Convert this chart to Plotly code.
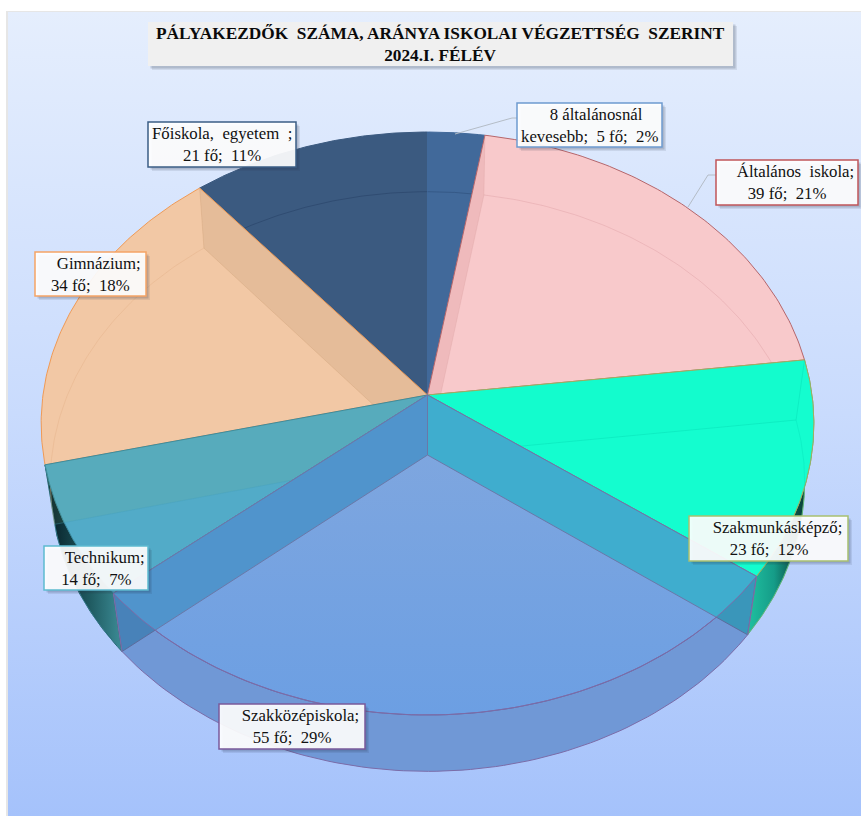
import numpy as np
import plotly.graph_objects as go

# ---- data ----
categories = ["8 általánosnál kevesebb", "Általános iskola", "Szakmunkásképző",
              "Szakközépiskola", "Technikum", "Gimnázium", "Főiskola, egyetem"]
counts = [5, 39, 23, 55, 14, 34, 21]
percents = [2, 21, 12, 29, 7, 18, 11]
title_lines = ["PÁLYAKEZDŐK\u00a0 SZÁMA, ARÁNYA ISKOLAI VÉGZETTSÉG\u00a0 SZERINT", "2024.I. FÉLÉV"]

# ---- styles ----
face_colors = ["#41699A", "#F8C9CB", "#14FDCF", "#76A3E0", "#52ABC8", "#F2C8A5", "#3B5A80"]
rim_colors = ["#41699A", "#B5666B", "#A0B060", "#7B6CA8", "#3A8AA0", "#F09A55", "#3B5A80"]
border_colors = ["#6E9BD0", "#C0555A", "#A8C070", "#7A5A9A", "#5EBBD0", "#F5A465", "#3B5E85"]
boxes = [(517, 662, 103, 147), (716, 858, 160, 205), (689, 848, 516, 561), (219, 365, 704, 749),
         (44, 148, 546, 590), (35, 146, 252, 296), (148, 296, 122, 167)]
N = "\u00a0"
label_lines = [
    (N*3 + categories[0].rsplit(" ", 1)[0], categories[0].rsplit(" ", 1)[1] + f";{N}{N}{counts[0]}{N}fő;{N}{N}{percents[0]}%"),
    (N*4 + categories[1].replace(" ", N*2) + ";", f"{counts[1]}{N}fő;{N}{N}{percents[1]}%"),
    (N*4 + categories[2] + ";", f"{counts[2]}{N}fő;{N}{N}{percents[2]}%"),
    (N*4 + categories[3] + ";", f"{counts[3]}{N}fő;{N}{N}{percents[3]}%"),
    (N*4 + categories[4] + ";", f"{counts[4]}{N}fő;{N}{N}{percents[4]}%"),
    (N*4 + categories[5] + ";", f"{counts[5]}{N}fő;{N}{N}{percents[5]}%"),
    (categories[6].replace(" ", N*2) + f"{N}{N};", f"{counts[6]}{N}fő;{N}{N}{percents[6]}%"),
]

# ---- projection of the tilted disc (upper and lower rim) ----
CX, CY, CY_LOW = 427.5, 395.0, 455.0
A, B, K = 384.5, 288.7, 0.0978
A_LOW, B_LOW, K_LOW = 375.6, 287.4, 0.0915

def proj(theta, low=False):
    u, v = np.sin(theta), -np.cos(theta)
    if low:
        w = 1 - K_LOW * v
        return CX + A_LOW * u / w, CY_LOW + B_LOW * v / w
    w = 1 - K * v
    return CX + A * u / w, CY + B * v / w

def arc(t0, t1, low=False, n=90):
    return proj(np.linspace(t0, t1, n), low)

ends = np.cumsum(counts) / np.sum(counts) * 2 * np.pi
starts = np.concatenate([[0.0], ends[:-1]])

fig = go.Figure()

def poly(x, y, fill=None, line=None, lw=1, grad=None):
    x = list(x) + [x[0]]
    y = list(y) + [y[0]]
    kw = dict(x=x, y=y, mode="lines", hoverinfo="skip", showlegend=False,
              line=dict(color=line or "rgba(0,0,0,0)", width=lw))
    if fill or grad:
        kw["fill"] = "toself"
    if fill:
        kw["fillcolor"] = fill
    if grad:
        kw["fillgradient"] = grad
    fig.add_trace(go.Scatter(**kw))

def open_line(x, y, color, lw=1):
    fig.add_trace(go.Scatter(x=list(x), y=list(y), mode="lines", hoverinfo="skip",
                             showlegend=False, line=dict(color=color, width=lw)))

def wall(t, fill=None, edge=None):
    tx, ty = proj(t)
    bx, by = proj(t, True)
    poly([CX, tx, bx, CX], [CY, ty, by, CY_LOW], fill=fill, line=None)
    if edge:
        open_line([tx, bx, CX], [ty, by, CY_LOW], edge)

# page background panel
poly([6, 861, 861, 6], [11, 11, 816, 816], fill="#E6E6E6")
poly([8, 861, 861, 8], [12, 12, 816, 816],
     grad=dict(type="vertical", colorscale=[[0, "#E5EEFD"], [0.5, "#C9DBFD"], [1, "#A5C2FB"]],
               start=12, stop=816))

def outer_wall(i, grad=None, fill=None, line=None):
    tx, ty = arc(starts[i], ends[i])
    bx, by = arc(ends[i], starts[i], low=True)
    poly(np.r_[tx, bx], np.r_[ty, by], fill=fill, grad=grad, line=line)

outer_wall(2, grad=dict(type="horizontal", colorscale=[[0, "#20C0A0"], [0.45, "#159C88"], [0.8, "#0A5048"], [1, "#0A4038"]],
                        start=748, stop=806), line="#7FA860")
outer_wall(4, grad=dict(type="horizontal", colorscale=[[0, "#08222A"], [0.55, "#1F5A60"], [1, "#3C8C96"]],
                        start=50, stop=122), line="#1A4A50")

# top faces, each with the lower rim and walls seen through it; later faces clip earlier ones
faint = {6: "rgba(45,72,110,0.8)", 0: "rgba(50,85,130,0.8)", 1: "rgba(215,150,155,0.35)",
         5: "rgba(230,180,140,0.5)", 2: "rgba(0,215,180,0.3)", 4: "rgba(70,160,190,0.5)"}
for i in [6, 0, 1, 5, 2, 4]:
    ax, ay = arc(starts[i], ends[i])
    poly(np.r_[CX, ax], np.r_[CY, ay], fill=face_colors[i], line=rim_colors[i])
    x, y = arc(starts[i], ends[i], low=True)
    open_line(x, y, faint[i])
    if i == 1:
        wall(ends[0], fill="rgba(190,110,110,0.16)", edge="rgba(210,150,150,0.25)")
    elif i == 5:
        wall(ends[5], fill="rgba(120,90,50,0.10)", edge="rgba(205,160,120,0.35)")
    elif i == 2:
        wall(ends[1], fill="rgba(0,200,150,0.02)", edge="rgba(0,205,170,0.3)")
    elif i == 4:
        wall(ends[4], fill="rgba(125,175,110,0.12)", edge="rgba(70,160,190,0.35)")

# the large front slice
i = 3
outer_wall(i, fill="#82AFF0")
ax, ay = arc(starts[i], ends[i])
poly(np.r_[CX, ax], np.r_[CY, ay],
     grad=dict(type="vertical", colorscale=[[0, "#7EA6DF"], [1, "#6C9FE3"]], start=455, stop=715),
     line=rim_colors[i])
for t, col in [(starts[i], "#3FADCE"), (ends[i], "#5094CC")]:
    tx, ty = proj(t)
    bx, by = proj(t, True)
    poly([CX, tx, bx, CX], [CY, ty, by, CY_LOW], fill=col, line="#6A78A8")
tx, ty = arc(starts[i], ends[i])
bx, by = arc(ends[i], starts[i], low=True)
poly(np.r_[tx, bx], np.r_[ty, by], fill="rgba(40,60,110,0.2)", line=rim_colors[i])

# leader lines
open_line([455, 512, 517], [134, 118, 118], "#B4BCC6")
open_line([688, 708, 716], [207, 175, 175], "#B4BCC6")

shapes, annotations = [], []

def shadow(x0, x1, y0, y1):
    for d, a in [(4, 0.10), (2.5, 0.18)]:
        shapes.append(dict(type="rect", xref="x", yref="y", x0=x0 + d, x1=x1 + d, y0=y0 + d, y1=y1 + d,
                           fillcolor=f"rgba(40,50,70,{a})", line=dict(width=0), layer="above"))

shadow(148, 733, 22, 66)
shapes.append(dict(type="rect", xref="x", yref="y", x0=148, x1=733, y0=22, y1=66,
                   fillcolor="#F0F0F0", line=dict(width=0), layer="above"))
annotations.append(dict(x=440.5, y=44, xref="x", yref="y", showarrow=False, align="center",
                        text="<b>" + title_lines[0] + "</b><br><b>" + title_lines[1] + "</b>",
                        font=dict(family="Liberation Serif", size=17.3, color="#0A0A0A")))

for (x0, x1, y0, y1), lines, bc in zip(boxes, label_lines, border_colors):
    shadow(x0, x1, y0, y1)
    shapes.append(dict(type="rect", xref="x", yref="y", x0=x0, x1=x1, y0=y0, y1=y1,
                       fillcolor="rgba(255,255,255,0.92)", line=dict(color=bc, width=1.5), layer="above"))
    annotations.append(dict(x=(x0 + x1) / 2, y=(y0 + y1) / 2, xref="x", yref="y", showarrow=False,
                            align="center", text=lines[0] + "<br>" + lines[1],
                            font=dict(family="Liberation Serif", size=16.8, color="#111111")))

fig.update_layout(
    width=861, height=816, margin=dict(l=0, r=0, t=0, b=0), paper_bgcolor="white", plot_bgcolor="white",
    showlegend=False, shapes=shapes, annotations=annotations,
    xaxis=dict(range=[0, 861], visible=False, fixedrange=True),
    yaxis=dict(range=[816, 0], visible=False, fixedrange=True),
)
fig.write_html("out.html", post_script="document.body.style.margin='0';document.body.style.overflow='hidden';",
               config={"displayModeBar": False})
